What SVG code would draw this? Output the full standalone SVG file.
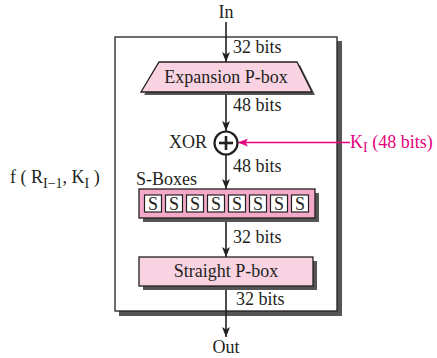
<svg xmlns="http://www.w3.org/2000/svg" width="437" height="358" viewBox="0 0 437 358">
<defs>
<style>
text{font-family:"Liberation Serif","Times New Roman",serif;font-size:18px;fill:#231f20}
.c{text-anchor:middle}
.pink{fill:#e6007e}
.ln{stroke:#231f20;stroke-width:1.6;fill:none}
.sh{fill:#555}
.pbox{fill:#fad3e3;stroke:#231f20;stroke-width:1.3}
.sbox{fill:#f4a9c9;stroke:#231f20;stroke-width:1.3}
.cell{fill:#fff;stroke:#231f20;stroke-width:1.2}
</style>
<marker id="ah" markerUnits="userSpaceOnUse" markerWidth="10" markerHeight="10" viewBox="0 0 10 10" refX="10" refY="5" orient="auto">
<path d="M0,1 L10,5 L0,9 L2.5,5 Z" fill="#231f20"/>
</marker>
<marker id="ahp" markerUnits="userSpaceOnUse" markerWidth="10" markerHeight="10" viewBox="0 0 10 10" refX="10" refY="5" orient="auto">
<path d="M0,1 L10,5 L0,9 L2.5,5 Z" fill="#e6007e"/>
</marker>
</defs>
<g id="frame">
<rect x="119" y="41" width="223" height="275" class="sh"/>
<rect x="115" y="37" width="222" height="274" fill="#fff" stroke="#231f20" stroke-width="1.3"/>
</g>
<g id="connectors">
<line x1="226" y1="22" x2="226" y2="62" class="ln" marker-end="url(#ah)"/>
<line x1="226" y1="92" x2="226" y2="131" class="ln" marker-end="url(#ah)"/>
<line x1="226" y1="155" x2="226" y2="189" class="ln" marker-end="url(#ah)"/>
<line x1="226" y1="218" x2="226" y2="257" class="ln" marker-end="url(#ah)"/>
<line x1="226" y1="286" x2="226" y2="337" class="ln" marker-end="url(#ah)"/>
<line x1="350" y1="142.5" x2="238" y2="142.5" stroke="#e6007e" stroke-width="1.6" marker-end="url(#ahp)"/>
<text x="233" y="53">32 bits</text>
<text x="233" y="111">48 bits</text>
<text x="233" y="172">48 bits</text>
<text x="233" y="243">32 bits</text>
<text x="236" y="305">32 bits</text>
</g>
<g id="in"><text x="226" y="18" class="c">In</text></g>
<g id="out"><text x="226" y="353" class="c">Out</text></g>
<g id="expansion">
<polygon points="162,65 300,65 315,95 144,95" class="sh"/>
<polygon points="159,62 297,62 312,92 141,92" class="pbox"/>
<text x="226" y="83" class="c">Expansion P-box</text>
</g>
<g id="xor">
<text x="207" y="148" text-anchor="end">XOR</text>
<circle cx="226" cy="143" r="11.5" fill="#fff" stroke="#231f20" stroke-width="2.2"/>
<line x1="219" y1="143" x2="233" y2="143" stroke="#231f20" stroke-width="2.6"/>
<line x1="226" y1="136" x2="226" y2="150" stroke="#231f20" stroke-width="2.6"/>
</g>
<g id="key">
<text x="350" y="148" class="pink">K<tspan dy="4" font-size="14">I</tspan><tspan dy="-4"> (48 bits)</tspan></text>
</g>
<g id="sboxes">
<text x="136" y="185">S-Boxes</text>
<rect x="143" y="193" width="176" height="29" class="sh"/>
<rect x="139" y="189" width="176" height="29" class="sbox"/>
<g>
<rect x="144.5" y="195" width="17" height="17" class="cell"/>
<rect x="165.5" y="195" width="17" height="17" class="cell"/>
<rect x="186.5" y="195" width="17" height="17" class="cell"/>
<rect x="207.5" y="195" width="17" height="17" class="cell"/>
<rect x="228.5" y="195" width="17" height="17" class="cell"/>
<rect x="249.5" y="195" width="17" height="17" class="cell"/>
<rect x="270.5" y="195" width="17" height="17" class="cell"/>
<rect x="291.5" y="195" width="17" height="17" class="cell"/>
</g>
<g class="c">
<text x="153" y="210" class="c">S</text>
<text x="174" y="210" class="c">S</text>
<text x="195" y="210" class="c">S</text>
<text x="216" y="210" class="c">S</text>
<text x="237" y="210" class="c">S</text>
<text x="258" y="210" class="c">S</text>
<text x="279" y="210" class="c">S</text>
<text x="300" y="210" class="c">S</text>
</g>
</g>
<g id="straight">
<rect x="143" y="261" width="174" height="29" class="sh"/>
<rect x="139" y="257" width="174" height="29" class="pbox"/>
<text x="226" y="277" class="c">Straight P-box</text>
</g>
<g id="flabel">
<text x="10" y="183">f ( R<tspan dy="5" font-size="14">I−1</tspan><tspan dy="-5">, K</tspan><tspan dy="5" font-size="14">I</tspan><tspan dy="-5"> )</tspan></text>
</g>
</svg>
